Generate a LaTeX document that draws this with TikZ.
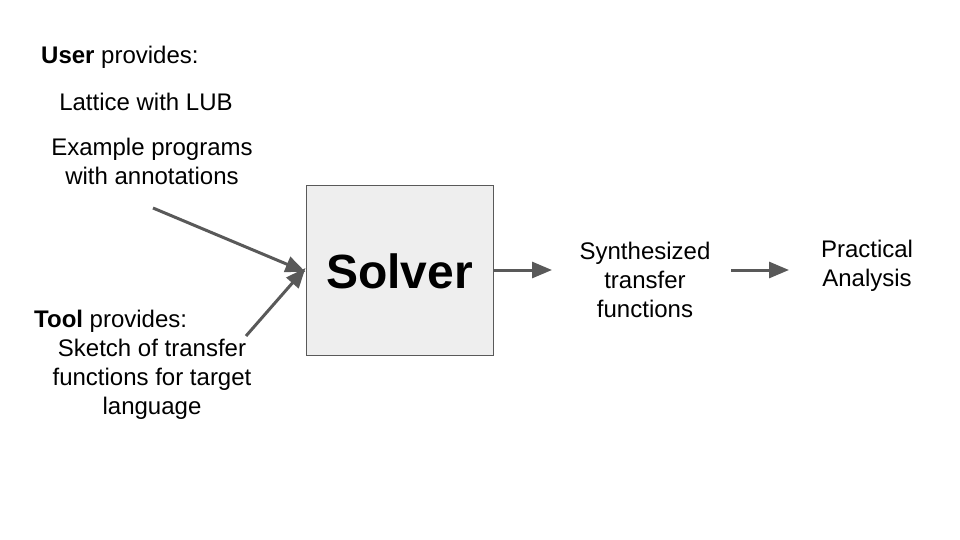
\documentclass[tikz,border=0pt]{standalone}
\usepackage{fontspec}
\setmainfont{Liberation Sans}
\usetikzlibrary{arrows.meta}

\definecolor{arrowgray}{HTML}{595959}
\definecolor{boxgray}{HTML}{EEEEEE}

\begin{document}
\begin{tikzpicture}
        [
        x=1pt, y=-1pt,
        every node/.style={inner sep=0pt, align=center, font=\fontsize{24}{29}\selectfont},
        solverbox/.style={draw=arrowgray, fill=boxgray, line width=1pt, minimum width=187pt, minimum height=170pt},
        >={Triangle[length=20pt,width=16pt]},
        flow/.style={->, draw=arrowgray, line width=3pt}
        ]
        \useasboundingbox (0,0) rectangle (960,540);

        \node[anchor=west] (user) at (41,57) {\textbf{User} provides:};
        \node (lattice) at (146,102) {Lattice with LUB};
        \node (examples) at (152,161) {Example programs\\with annotations};
        \node[anchor=west] (tool) at (34,321) {\textbf{Tool} provides:};
        \node (sketch) at (152,379) {Sketch of transfer\\functions for target\\language};

        \node[solverbox] (solver) at (399.5,270) {};
        \node[font=\fontsize{48}{50}\selectfont\bfseries] (solvertext) at (399.5,271) {Solver};

        \node (synth) at (645,280) {Synthesized\\transfer\\functions};
        \node (analysis) at (867,265.5) {Practical\\Analysis};

        \coordinate (a1) at (153,208);
        \coordinate (a2) at (246,336);
        \coordinate (a3) at (552,270);
        \coordinate (a4) at (731,270);
        \coordinate (a5) at (789,270);

        \draw[flow] (a1) -- ([yshift=-2pt]solver.west);
        \draw[flow] (a2) -- ([yshift=2pt]solver.west);
        \draw[flow] (solver.east) -- (a3);
        \draw[flow] (a4) -- (a5);
    \end{tikzpicture}
\end{document}
